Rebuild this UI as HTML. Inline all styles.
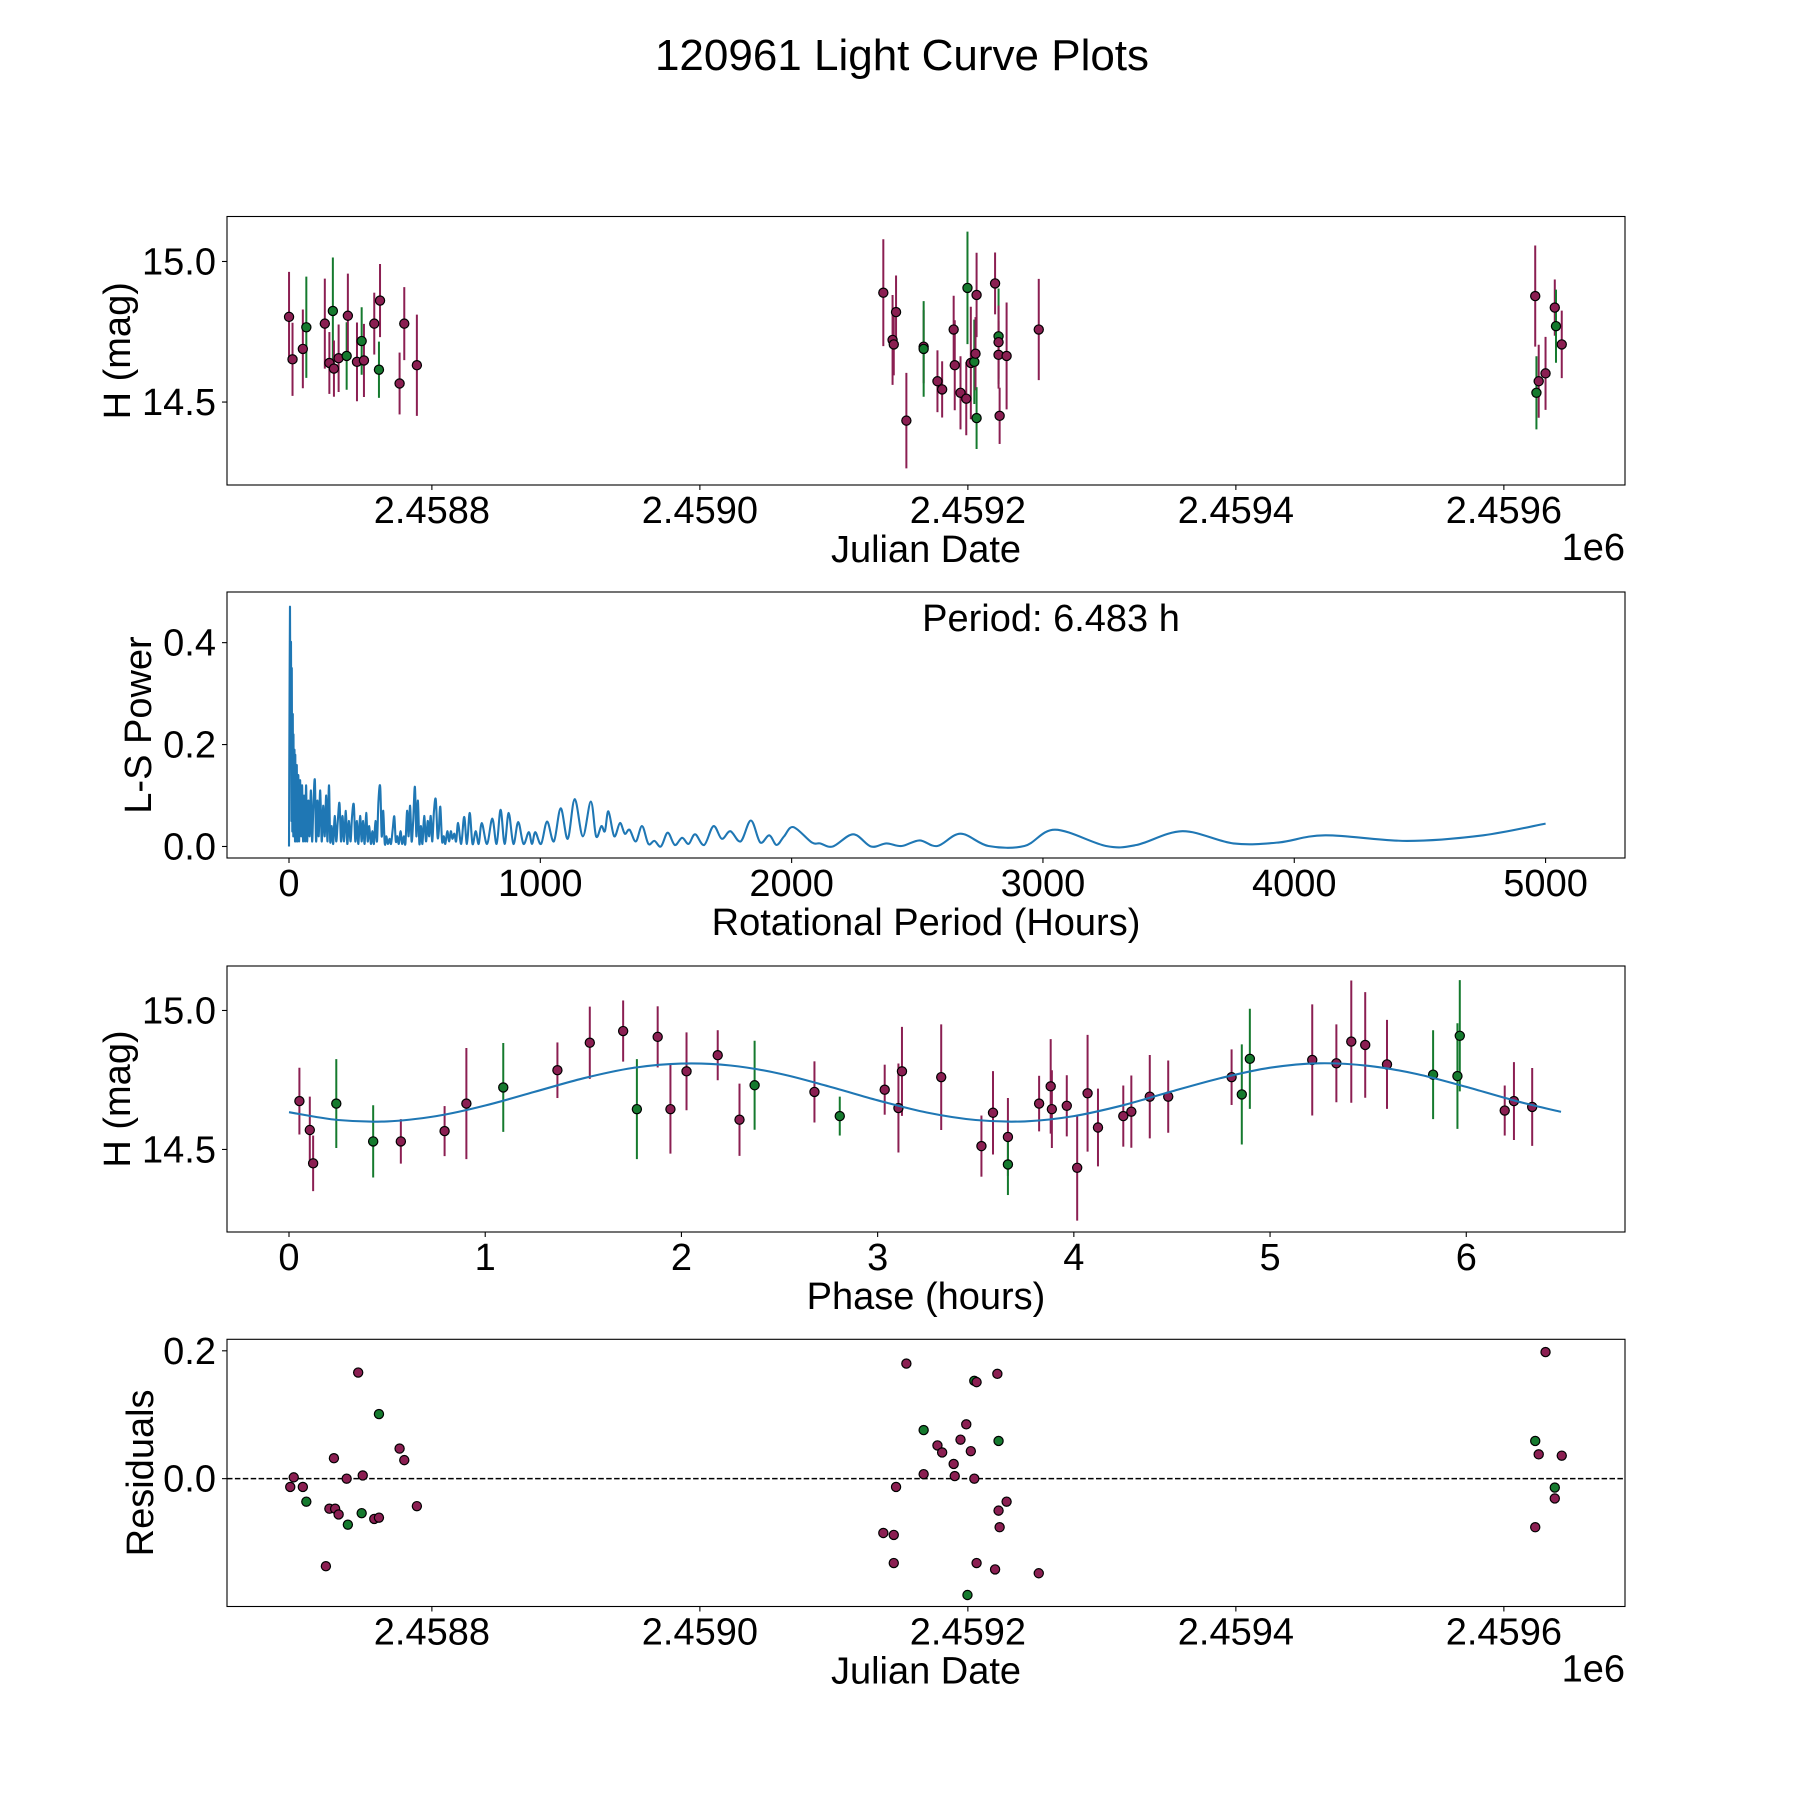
<!DOCTYPE html>
<html><head><meta charset="utf-8">
<style>
html,body{margin:0;padding:0;background:#fff;}
svg{display:block;font-family:"Liberation Sans","DejaVu Sans",sans-serif;}
</style></head>
<body>
<svg id="fig" width="1800" height="1800" viewBox="0 0 1800 1800" xmlns="http://www.w3.org/2000/svg">
<rect width="1800" height="1800" fill="#fff"/>
<text x="902" y="70" font-size="44" text-anchor="middle">120961 Light Curve Plots</text>
<g id="p1"></g>
<g id="p2"></g>
<g id="p3"></g>
<g id="p4"></g>
</svg>
<script>
// ---------- data ----------
const lcJD = [2458693.4,2458696.0,2458703.7,2458706.3,2458720.1,2458723.5,2458726.1,2458726.9,2458730.4,2458736.4,2458737.3,2458744.1,2458747.6,2458749.3,2458757.0,2458760.5,2458761.3,2458775.9,2458779.4,2458788.8,
 2459136.9,2459143.8,2459144.7,2459146.4,2459154.1,2459167.0,2459167.0,2459177.3,2459180.8,2459189.4,2459190.2,2459194.5,2459199.7,2459198.8,2459202.2,2459204.8,2459205.7,2459206.5,2459206.5,2459220.3,2459222.9,2459222.9,2459222.9,2459223.7,2459228.9,2459252.9,
 2459623.4,2459626.0,2459624.3,2459631.1,2459638.0,2459638.9,2459643.2];
const lcMag = [14.803,14.652,14.689,14.766,14.779,14.639,14.824,14.619,14.656,14.664,14.807,14.643,14.717,14.648,14.779,14.615,14.861,14.566,14.779,14.631,
 14.889,14.721,14.705,14.820,14.434,14.697,14.689,14.574,14.545,14.758,14.631,14.533,14.906,14.512,14.639,14.643,14.672,14.881,14.443,14.922,14.734,14.713,14.668,14.451,14.664,14.758,
 14.877,14.574,14.533,14.602,14.836,14.770,14.705];
const lcErr = [0.16,0.13,0.14,0.18,0.16,0.11,0.19,0.1,0.12,0.12,0.15,0.14,0.12,0.13,0.11,0.1,0.13,0.11,0.13,0.18,
 0.19,0.16,0.11,0.13,0.17,0.13,0.17,0.11,0.1,0.12,0.16,0.13,0.2,0.13,0.2,0.15,0.13,0.15,0.11,0.11,0.17,0.13,0.12,0.1,0.19,0.18,
 0.18,0.13,0.13,0.13,0.1,0.13,0.12];
const lcBand = ["p","p","p","g","p","p","g","p","p","g","p","p","g","p","p","g","p","p","p","p",
 "p","p","p","p","p","p","g","p","p","p","p","p","g","p","p","g","p","p","g","p","g","p","p","p","p","p",
 "p","p","g","p","p","g","p"];

const lsPeriod = [0,2,4,6,8,10,11,13,15,17,18,20,22,24,25,28,31,34,37,40,44,48,52,56,60,64,68,72,77,82,87,92,97,103,108,113,118,124,130,136,142,148,153,159,164,170,176,182,188,194,201,207,213,219,226,232,238,245,251,258,264,270,276,283,289,295,301,307,313,319,326,332,338,344,350,356,363,369,375,381,387,393,400,406,412,419,425,431,437,444,450,457,463,470,476,482,488,494,501,507,513,519,525,531,538,545,552,558,564,570,577,584,591,596,602,609,616,622,630,637,644,650,658,665,673,685,697,708,719,730,743,755,767,788,809,826,842,858,874,893,912,933,954,967,980,1003,1027,1054,1081,1109,1137,1169,1201,1222,1243,1257,1271,1294,1317,1336,1355,1380,1405,1430,1454,1480,1507,1535,1564,1590,1616,1652,1689,1722,1756,1797,1838,1875,1911,1940,1970,2007,2080,2113,2164,2245,2316,2377,2438,2509,2580,2672,2783,2926,3048,3251,3372,3555,3758,3940,4123,4448,4752,5000];
const lsPower = [0,0.27,0.47,0.2,0.4,0.05,0.35,0.03,0.26,0.02,0.22,0.02,0.19,0.01,0.18,0.01,0.16,0.01,0.14,0.01,0.13,0.02,0.12,0.01,0.1,0.01,0.12,0.01,0.09,0.02,0.11,0.01,0.08,0.13,0.01,0.09,0.02,0.11,0.01,0.08,0.02,0.1,0.01,0.12,0.01,0.04,0.005,0.06,0.01,0.05,0.085,0.01,0.06,0.01,0.07,0.005,0.05,0.01,0.06,0.082,0.01,0.05,0.005,0.06,0.01,0.05,0.005,0.066,0.01,0.04,0.005,0.03,0.005,0.05,0.01,0.09,0.117,0.02,0.07,0.005,0.02,0.005,0.015,0.005,0.03,0.059,0.01,0.02,0.005,0.03,0.005,0.02,0.005,0.07,0.02,0.08,0.01,0.05,0.117,0.02,0.09,0.005,0.04,0.005,0.06,0.01,0.05,0.02,0.06,0.01,0.07,0.092,0.02,0.03,0.078,0.01,0.02,0.005,0.03,0.01,0.03,0.015,0.025,0.01,0.046,0.005,0.058,0.005,0.066,0.005,0.03,0.005,0.046,0.005,0.055,0.005,0.072,0.005,0.066,0.005,0.048,0.005,0.028,0.005,0.028,0.005,0.049,0.01,0.075,0.015,0.093,0.02,0.088,0.02,0.04,0.03,0.069,0.02,0.046,0.025,0.033,0.01,0.04,0.005,0.011,0,0.027,0.003,0.017,0.005,0.024,0.003,0.04,0.015,0.03,0.01,0.051,0.008,0.022,0.003,0.02,0.038,0.008,0.006,0,0.024,0,0.006,0.001,0.012,0.001,0.025,0.001,0.001,0.033,0.001,0.003,0.03,0.006,0.008,0.022,0.011,0.022,0.045];

const phHours = [0.053,0.106,0.123,0.241,0.429,0.570,0.793,0.904,1.092,1.368,1.533,1.703,1.773,1.879,1.944,2.026,2.185,2.296,2.373,2.678,2.807,3.036,3.106,3.124,3.324,3.529,3.588,3.664,3.664,3.823,3.882,3.888,3.964,4.017,4.070,4.123,4.252,4.293,4.387,4.481,4.804,4.856,4.897,5.215,5.338,5.414,5.485,5.596,5.831,5.955,5.967,6.196,6.243,6.336];
const phMag = [14.674,14.570,14.450,14.665,14.529,14.529,14.566,14.665,14.723,14.785,14.884,14.926,14.645,14.905,14.645,14.781,14.839,14.607,14.731,14.707,14.620,14.715,14.649,14.781,14.760,14.512,14.632,14.545,14.446,14.665,14.727,14.645,14.657,14.434,14.702,14.579,14.620,14.636,14.690,14.690,14.760,14.698,14.826,14.822,14.810,14.888,14.876,14.806,14.769,14.764,14.909,14.640,14.674,14.653];
const phErr = [0.12,0.12,0.1,0.16,0.13,0.08,0.09,0.2,0.16,0.1,0.13,0.11,0.18,0.11,0.16,0.14,0.09,0.13,0.16,0.11,0.07,0.09,0.16,0.16,0.19,0.11,0.15,0.14,0.11,0.1,0.17,0.14,0.11,0.19,0.21,0.14,0.11,0.13,0.15,0.13,0.1,0.18,0.18,0.2,0.14,0.22,0.19,0.16,0.16,0.19,0.2,0.09,0.14,0.14];
const phBand = ["p","p","p","g","g","p","p","p","g","p","p","p","g","p","p","p","p","p","g","p","g","p","p","p","p","p","p","p","g","p","p","p","p","p","p","p","p","p","p","p","p","g","g","p","p","p","p","p","g","g","g","p","p","p"];

const fitHours = [0,0.25,0.5,0.75,1.0,1.25,1.5,1.75,2.0,2.25,2.5,2.75,3.0,3.25,3.5,3.75,4.0,4.25,4.5,4.75,5.0,5.25,5.5,5.75,6.0,6.25,6.483];
const fitMag = [14.634,14.606,14.601,14.620,14.658,14.707,14.756,14.793,14.809,14.802,14.773,14.727,14.677,14.633,14.606,14.601,14.620,14.659,14.709,14.757,14.794,14.810,14.801,14.771,14.725,14.675,14.635];

const resJD = [2458694.3,2458696.9,2458703.7,2458706.3,2458720.9,2458723.5,2458726.9,2458727.8,2458730.4,2458736.4,2458737.3,2458745.0,2458747.6,2458748.4,2458757.0,2458760.5,2458760.5,2458775.9,2458779.4,2458788.8,
 2459136.9,2459144.7,2459144.7,2459146.4,2459154.1,2459167.0,2459167.0,2459177.3,2459180.8,2459189.4,2459190.2,2459194.5,2459198.8,2459199.7,2459202.2,2459204.8,2459204.8,2459206.5,2459206.5,2459220.3,2459222.0,2459222.9,2459222.9,2459223.7,2459228.9,2459252.9,
 2459623.4,2459623.4,2459626.0,2459631.1,2459638.0,2459638.0,2459643.2];
const resVal = [-0.013,0.002,-0.013,-0.036,-0.137,-0.047,0.032,-0.047,-0.056,0.0,-0.072,0.166,-0.054,0.005,-0.063,-0.061,0.101,0.047,0.029,-0.043,
 -0.085,-0.088,-0.132,-0.013,0.180,0.076,0.007,0.052,0.041,0.023,0.004,0.061,0.085,-0.182,0.043,0.0,0.153,-0.132,0.151,-0.142,0.164,0.059,-0.050,-0.076,-0.036,-0.148,
 0.059,-0.076,0.038,0.198,-0.014,-0.031,0.036];
const resBand = ["p","p","p","g","p","p","p","p","p","p","g","p","g","p","p","p","g","p","p","p",
 "p","p","p","p","p","g","p","p","p","p","p","p","p","g","p","p","g","p","p","p","p","g","p","p","p","p",
 "g","p","p","p","g","p","p"];

const jdTicks = [2458800,2459000,2459200,2459400,2459600];
const jdTickLabels = ["2.4588","2.4590","2.4592","2.4594","2.4596"];
const magTicks = [15.0,14.5];
const magTickLabels = ["15.0","14.5"];
const perTicks = [0,1000,2000,3000,4000,5000];
const powTicks = [0.0,0.2,0.4];
const phTicks = [0,1,2,3,4,5,6];
const resTicks = [0.2,0.0];

// ---------- helpers ----------
const NS = "http://www.w3.org/2000/svg";
const COL = {p:"#8b1f52", g:"#157a2e"};
const AX = {l:227, r:1625};
const FS = 38;
function mk(parent, tag, attrs, text){
  const e = document.createElementNS(NS, tag);
  for (const k in attrs) e.setAttribute(k, attrs[k]);
  if (text !== undefined) e.textContent = text;
  parent.appendChild(e);
  return e;
}
function lin(d0,d1,r0,r1){ return v => r0 + (v-d0)/(d1-d0)*(r1-r0); }
function smoothPath(P){
  let d = "M" + P[0][0].toFixed(1) + "," + P[0][1].toFixed(1);
  for (let i=0;i<P.length-1;i++){
    const p0 = P[Math.max(0,i-1)], p1 = P[i], p2 = P[i+1], p3 = P[Math.min(P.length-1,i+2)];
    const c1x = p1[0] + (p2[0]-p0[0])/6, c1y = p1[1] + (p2[1]-p0[1])/6;
    const c2x = p2[0] - (p3[0]-p1[0])/6, c2y = p2[1] - (p3[1]-p1[1])/6;
    d += " C" + c1x.toFixed(1) + "," + c1y.toFixed(1) + " " + c2x.toFixed(1) + "," + c2y.toFixed(1) + " " + p2[0].toFixed(1) + "," + p2[1].toFixed(1);
  }
  return d;
}

function frame(g, top, bot, xs, ys, xt, xtl, yt, ytl, xlabel, ylabel, ylabX, offsetText){
  const box = mk(g,"rect",{x:AX.l,y:top,width:AX.r-AX.l,height:bot-top,fill:"none",stroke:"#000","stroke-width":1.1});
  
  
  xt.forEach((v,i)=>{
    const x = xs(v);
    const t = mk(g,"line",{x1:x,x2:x,y1:bot,y2:bot+5,stroke:"#000","stroke-width":1.1});
    
    
    const l = mk(g,"text",{x:x,y:bot+38,"font-size":FS,"text-anchor":"middle"},xtl[i]);
    
    
  });
  yt.forEach((v,i)=>{
    const y = ys(v);
    const t = mk(g,"line",{x1:AX.l-5,x2:AX.l,y1:y,y2:y,stroke:"#000","stroke-width":1.1});
    
    
    const l = mk(g,"text",{x:AX.l-11,y:y+13,"font-size":FS,"text-anchor":"end"},ytl[i]);
    
    
  });
  const xl = mk(g,"text",{x:(AX.l+AX.r)/2,y:bot+77,"font-size":FS,"text-anchor":"middle"},xlabel);
  
  
  const cy = (top+bot)/2;
  const yl = mk(g,"text",{x:ylabX,y:cy,"font-size":FS,"text-anchor":"middle",transform:`rotate(-90 ${ylabX} ${cy})`},ylabel);
  
  
  if (offsetText){
    const o = mk(g,"text",{x:AX.r,y:bot+75,"font-size":FS,"text-anchor":"end"},offsetText);
    
    
  }
}
function errPoints(g, xs, ys, X, Y, E, B){
  X.forEach((xv,i)=>{
    const x = xs(xv);
    const c = COL[B[i]];
    if (E){
      const e = mk(g,"line",{x1:x,x2:x,y1:ys(Y[i]-E[i]),y2:ys(Y[i]+E[i]),stroke:c,"stroke-width":2});
      
      
    }
  });
  X.forEach((xv,i)=>{
    const m = mk(g,"circle",{cx:xs(xv),cy:ys(Y[i]),r:4.6,fill:COL[B[i]],stroke:"#000","stroke-width":1.2});
    
    
  });
}

// ---------- panel 1 ----------
(function(){
  const g = document.getElementById("p1");
  const top=216.5, bot=485;
  const xs = lin(2458647.1, 2459690.4, AX.l, AX.r);
  const ys = lin(14.205, 15.16, bot, top);
  frame(g,top,bot,xs,ys,jdTicks,jdTickLabels,magTicks,magTickLabels,"Julian Date","H (mag)",130,"1e6");
  errPoints(g,xs,ys,lcJD,lcMag,lcErr,lcBand);
})();

// ---------- panel 2 ----------
(function(){
  const g = document.getElementById("p2");
  const top=592, bot=858;
  const xs = lin(-246.7, 5316, AX.l, AX.r);
  const ys = lin(-0.0226, 0.4994, bot, top);
  frame(g,top,bot,xs,ys,perTicks,perTicks.map(String),powTicks,powTicks.map(v=>v.toFixed(1)),"Rotational Period (Hours)","L-S Power",151);
  const P = lsPeriod.map((p,i)=>[xs(p), ys(lsPower[i])]);
  const pl = mk(g,"path",{d:smoothPath(P),fill:"none",stroke:"#1f77b4","stroke-width":2.1,"stroke-linejoin":"round"});
  
  
  const t = mk(g,"text",{x:1051,y:631,"font-size":FS,"text-anchor":"middle"},"Period: 6.483 h");
  
  
})();

// ---------- panel 3 ----------
(function(){
  const g = document.getElementById("p3");
  const top=966, bot=1232;
  const xs = lin(-0.316, 6.809, AX.l, AX.r);
  const ys = lin(14.203, 15.16, bot, top);
  frame(g,top,bot,xs,ys,phTicks,phTicks.map(String),magTicks,magTickLabels,"Phase (hours)","H (mag)",130);
  errPoints(g,xs,ys,phHours,phMag,phErr,phBand);
  const P = fitHours.map((h,i)=>[xs(h), ys(fitMag[i])]);
  const pl = mk(g,"path",{d:smoothPath(P),fill:"none",stroke:"#1f77b4","stroke-width":2.1});
  
  
})();

// ---------- panel 4 ----------
(function(){
  const g = document.getElementById("p4");
  const top=1339.3, bot=1606.5;
  const xs = lin(2458647.1, 2459690.4, AX.l, AX.r);
  const ys = lin(-0.2, 0.218, bot, top);
  frame(g,top,bot,xs,ys,jdTicks,jdTickLabels,resTicks,resTicks.map(v=>v.toFixed(1)),"Julian Date","Residuals",153,"1e6");
  const z = mk(g,"line",{x1:AX.l,x2:AX.r,y1:ys(0),y2:ys(0),stroke:"#000","stroke-width":1.5,"stroke-dasharray":"5.5,2.4"});
  
  
  errPoints(g,xs,ys,resJD,resVal,null,resBand);
})();
</script>
</body></html>
